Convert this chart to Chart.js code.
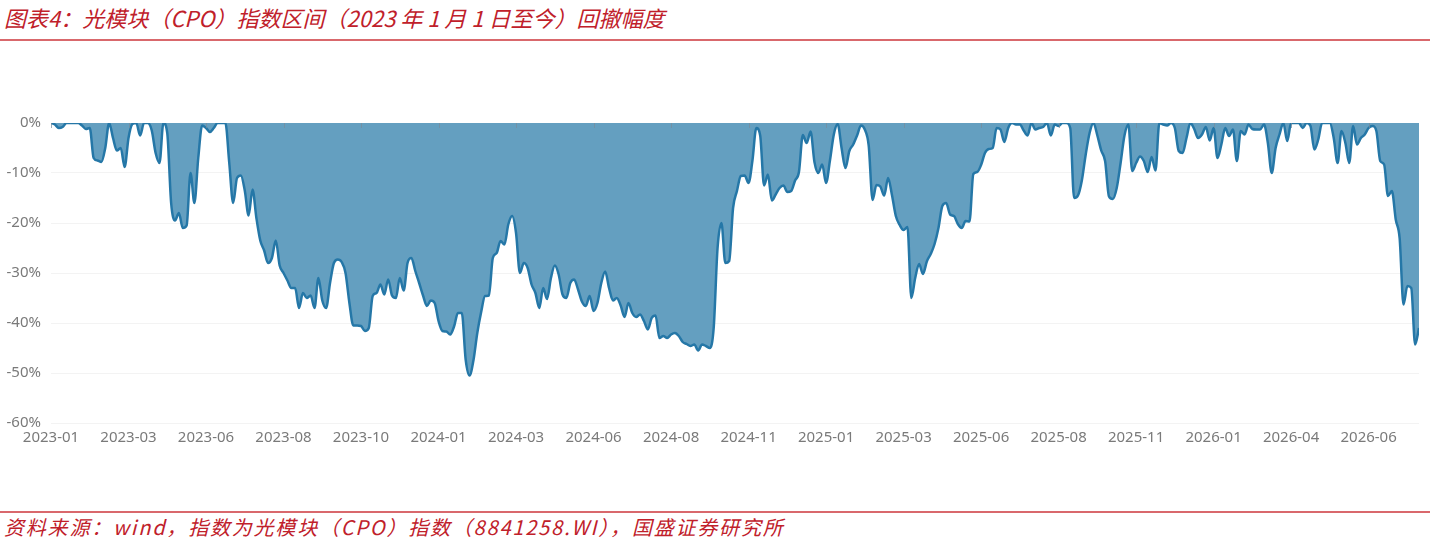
<!DOCTYPE html>
<html>
<head>
<meta charset="utf-8">
<script src="https://cdn.jsdelivr.net/npm/chart.js@4"></script>
<style>
  html, body { margin: 0; padding: 0; background: #fff; }
  body { width: 1430px; height: 544px; position: relative; overflow: hidden; }
  .title {
    position: absolute; left: 4px; top: 1px;
    font: italic 22px "Noto Sans CJK SC", "Noto Sans", sans-serif;
    color: #c0202a; white-space: nowrap;
  }
  .rule { position: absolute; left: 0; width: 1430px; height: 2px; background: #d9686c; }
  .source {
    position: absolute; left: 4px; top: 512px;
    font: italic 20px "Noto Sans CJK SC", "Noto Sans", sans-serif;
    letter-spacing: 1.8px;
    color: #c0202a; white-space: nowrap;
  }
  .chart-box { position: absolute; left: 0; top: 100px; width: 1430px; height: 360px; }
</style>
</head>
<body>
<div class="title">图表4：光模块（CPO）指数区间（2023 年 1 月 1 日至今）回撤幅度</div>
<div class="rule" style="top:39px"></div>
<div class="chart-box"><canvas id="dd"></canvas></div>
<div class="rule" style="top:511px"></div>
<div class="source">资料来源：wind，指数为光模块（CPO）指数（8841258.WI），国盛证券研究所</div>

<script>
/* x axis labels, one every 20 points of the series */
const tickLabels = ["2023-01", "2023-03", "2023-06", "2023-08", "2023-10", "2024-01",
  "2024-03", "2024-06", "2024-08", "2024-11", "2025-01", "2025-03", "2025-06",
  "2025-08", "2025-11", "2026-01", "2026-04", "2026-06"];
const tickEvery = 20;

/* y axis ticks (%) */
const yTicks = [0, -10, -20, -30, -40, -50, -60];

/* drawdown from previous high, % */
const drawdown = [
  0, -0.3, -1, -0.8, 0, 0, 0, 0, -0.5, -1.2,
  -1, -7, -7.5, -7.8, -5, 0, -3, -5.5, -5, -8.8,
  -3, -0.2, 0, -2.5, 0, 0, -1.5, -6, -8, 0,
  -2, -16, -19.5, -18, -21, -20.5, -10, -16, -7, -0.5,
  -1, -1.8, -1, 0, 0, 0, -8, -16, -11, -10.5,
  -13.5, -18.5, -13.3, -19, -23.5, -25.5, -28, -27, -23.5, -28.5,
  -30, -31.5, -33, -33, -37, -34, -35, -34.5, -37, -31,
  -35.5, -37, -32, -28, -27.3, -27.8, -30, -36, -40.5, -40.5,
  -40.6, -41.6, -41, -34.6, -34, -32.3, -34.3, -31.3, -34.5, -35,
  -31, -33.5, -28, -27, -29.6, -32, -34.5, -36.6, -35.5, -36,
  -39.6, -41.6, -41.7, -42.3, -40.7, -38, -38, -47.3, -50.5, -47.5,
  -42, -37.8, -34.6, -34.5, -27, -26, -23.6, -24.3, -20.3, -18.6,
  -22, -30, -28, -29, -32.3, -34, -37, -33, -35.2, -31,
  -28.5, -30.3, -34.3, -35, -32, -31.3, -33.3, -35.7, -36.6, -34.6,
  -37.6, -36, -32, -29.7, -33, -35.5, -35, -36.5, -38.8, -36,
  -38, -38.8, -38.3, -39.6, -41.3, -39, -38.5, -43, -42.6, -43,
  -42.3, -42, -42.6, -43.8, -44.2, -44.6, -44.3, -45.5, -44.3, -44.6,
  -45, -41, -25, -20, -28, -27.6, -17, -13.6, -10.6, -10.5,
  -12, -7.5, -1, -2.5, -12.5, -10.3, -15.5, -14.3, -13, -12.5,
  -13.8, -13.6, -11.5, -9.8, -2.4, -4, -1.7, -7.8, -10, -8.3,
  -12, -7.5, -2.3, -0.2, -5, -9, -5.6, -4.3, -2.5, -0.5,
  -1.3, -4.5, -15.4, -12.4, -12.7, -14.5, -11, -14.4, -18.6, -20.4,
  -21.4, -20.8, -35, -31, -28.2, -30.2, -27.7, -26.2, -24.2, -21,
  -16.6, -16, -18.3, -18.6, -20.2, -21, -19.6, -19.7, -10.2, -9.8,
  -8.4, -6, -5.2, -5, -1, -1.3, -3.8, -1, 0, -0.3,
  -0.3, -1.5, -2.5, 0, -1.3, -1, -0.8, 0, -2.5, -0.3,
  -0.6, 0, 0, -1, -15, -14.5, -11.5, -6.3, -2, 0,
  -2.5, -5.5, -7.6, -14.7, -15.2, -13, -8, -2.5, -0.3, -9.6,
  -8, -6.7, -7.6, -9.8, -6.8, -9.5, 0, -0.3, -0.5, 0,
  -1, -5.6, -6, -3, 0, -1.2, -3, -2.3, -0.8, -3.5,
  -1, -7, -4.3, -1, -2.6, -1.3, -7.6, -1.6, -2.3, -0.3,
  -1.2, -1.3, -1.3, -0.3, -4, -10, -5, -2.3, 0, -3.6,
  0, 0, 0, -1, 0, -0.6, -5.3, -3.3, 0, 0,
  0, -3, -8, -1.6, -4, -8, -0.6, -4.3, -3, -2.3,
  -1, -0.6, -1.6, -7.6, -8.3, -14.6, -13.6, -19.3, -23, -36.3,
  -32.6, -33, -44.3, -41
];

const tickFont = { family: "'Noto Sans', 'Open Sans', sans-serif", size: 15 };
const tickColor = "#7a7a7a";

/* small tick marks hanging off the 0% line at each date label */
const zeroTicks = {
  id: "zeroTicks",
  afterDatasetsDraw(chart) {
    const x = chart.scales.x, y = chart.scales.y;
    const ctx = chart.ctx;
    const y0 = y.getPixelForValue(0);
    ctx.save();
    ctx.strokeStyle = "rgba(120,140,155,0.7)";
    ctx.lineWidth = 1;
    tickLabels.forEach((_, i) => {
      const px = Math.round(x.getPixelForValue(i * tickEvery)) + 0.5;
      ctx.beginPath();
      ctx.moveTo(px, y0);
      ctx.lineTo(px, y0 + 5);
      ctx.stroke();
    });
    ctx.restore();
  }
};

new Chart(document.getElementById("dd"), {
  type: "line",
  data: {
    labels: drawdown.map((_, i) => i),
    datasets: [{
      data: drawdown.map((v, i) => ({ x: i, y: v })),
      borderColor: "#2577a7",
      backgroundColor: "#649fc0",
      borderWidth: 2.5,
      fill: "origin",
      pointRadius: 0,
      tension: 0.2,
      cubicInterpolationMode: "monotone"
    }]
  },
  options: {
    responsive: true,
    maintainAspectRatio: false,
    animation: false,
    layout: { padding: { top: 23, right: 11, left: 0, bottom: 0 } },
    plugins: { legend: { display: false }, tooltip: { enabled: false } },
    scales: {
      x: {
        type: "linear",
        min: 0,
        max: drawdown.length - 1,
        afterBuildTicks: (s) => { s.ticks = tickLabels.map((_, i) => ({ value: i * tickEvery })); },
        afterFit: (s) => { s.height = 37; },
        grid: { display: false, drawTicks: false },
        border: { display: false },
        ticks: {
          autoSkip: false,
          maxRotation: 0,
          padding: 6,
          color: tickColor,
          font: tickFont,
          callback: (v) => tickLabels[Math.round(v / tickEvery)] || ""
        }
      },
      y: {
        min: -60,
        max: 0,
        afterBuildTicks: (s) => { s.ticks = yTicks.map((v) => ({ value: v })); },
        afterFit: (s) => { s.width = 51; },
        grid: {
          drawTicks: false,
          color: (c) => (c.tick && c.tick.value === 0 ? "#c8c8c8" : "#f3f3f3"),
          lineWidth: 1
        },
        border: { display: false },
        ticks: {
          padding: 10,
          color: tickColor,
          font: tickFont,
          callback: (v) => v + "%"
        }
      }
    }
  },
  plugins: [zeroTicks]
});
</script>
</body>
</html>
